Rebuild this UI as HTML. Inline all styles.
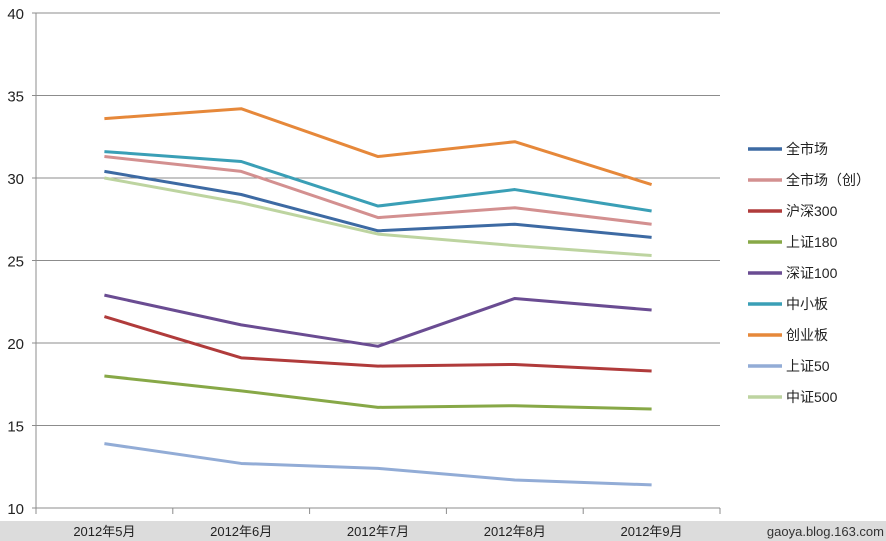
<!DOCTYPE html>
<html><head><meta charset="utf-8"><style>
html,body{margin:0;padding:0;background:#fff;width:886px;height:541px;overflow:hidden;font-family:"Liberation Sans","Noto Sans CJK SC",sans-serif;}
</style></head><body>
<svg id="chart" width="886" height="541" xmlns="http://www.w3.org/2000/svg" font-family="Liberation Sans, Noto Sans CJK SC, sans-serif">
<rect x="0" y="521" width="886" height="20" fill="#dcdcdc"/>
<g id="grid"></g><g id="axes"></g><g id="lines"></g><g id="legend"></g>
<text x="884" y="536" text-anchor="end" font-size="13" fill="#333">gaoya.blog.163.com</text>
</svg>
<script>
const categories = ["2012年5月","2012年6月","2012年7月","2012年8月","2012年9月"];
const yTicks = [10,15,20,25,30,35,40];
const seriesNames = ["全市场","全市场（创）","沪深300","上证180","深证100","中小板","创业板","上证50","中证500"];
const seriesColors = ["#3d6aa3","#d39090","#b03b3b","#87a847","#6a4c92","#3a9fb6","#e6883a","#92acd6","#bdd4a0"];
const sAll = [30.4,29.0,26.8,27.2,26.4];
const sAllC = [31.3,30.4,27.6,28.2,27.2];
const sHS300 = [21.6,19.1,18.6,18.7,18.3];
const sSZ180 = [18.0,17.1,16.1,16.2,16.0];
const sSZ100 = [22.9,21.1,19.8,22.7,22.0];
const sZXB = [31.6,31.0,28.3,29.3,28.0];
const sCYB = [33.6,34.2,31.3,32.2,29.6];
const sSZ50 = [13.9,12.7,12.4,11.7,11.4];
const sZZ500 = [30.0,28.5,26.6,25.9,25.3];
const seriesValues = [sAll,sAllC,sHS300,sSZ180,sSZ100,sZXB,sCYB,sSZ50,sZZ500];

const NS="http://www.w3.org/2000/svg";
const X0=36,X1=720,Y0=508,Y1=13,YMIN=10,YMAX=40;
const bw=(X1-X0)/categories.length;
const xs=i=>X0+bw*(i+0.5);
const ys=v=>Y0-(v-YMIN)/(YMAX-YMIN)*(Y0-Y1);
function mk(tag,attrs,parent){const e=document.createElementNS(NS,tag);for(const k in attrs)e.setAttribute(k,attrs[k]);parent.appendChild(e);return e;}
const grid=document.getElementById('grid'),axes=document.getElementById('axes'),lines=document.getElementById('lines'),legend=document.getElementById('legend');
yTicks.forEach(t=>{
  const y=ys(t);
  const l=mk('line',{x1:32,x2:X1,y1:y,y2:y,stroke:'#8c8c8c','stroke-width':1},grid);
  
  
  const tx=mk('text',{x:24,y:y+6,'text-anchor':'end','font-size':15,fill:'#222'},axes);
  tx.textContent=t;
  
  
});
const ya=mk('line',{x1:X0,x2:X0,y1:Y1,y2:Y0,stroke:'#8c8c8c','stroke-width':1},axes);


for(let i=0;i<=categories.length;i++){
  const x=X0+bw*i;
  const tk=mk('line',{x1:x,x2:x,y1:Y0,y2:Y0+6,stroke:'#8c8c8c'},axes);
  
  
}
categories.forEach((c,i)=>{
  const tx=mk('text',{x:xs(i),y:536,'text-anchor':'middle','font-size':13,fill:'#222'},axes);
  tx.textContent=c;
  
  
});
seriesValues.forEach((vals,s)=>{
  const pts=vals.map((v,i)=>xs(i)+','+ys(v)).join(' ');
  const pl=mk('polyline',{points:pts,fill:'none',stroke:seriesColors[s],'stroke-width':3,'stroke-linejoin':'round'},lines);
  
  
  const y=149+s*31;
  const g=mk('g',{},legend);
  
  
  mk('line',{x1:748,x2:782,y1:y,y2:y,stroke:seriesColors[s],'stroke-width':3.5},g);
  const t=mk('text',{x:786,y:y+5,'font-size':14,fill:'#222'},g);
  t.textContent=seriesNames[s];
});
</script>
</body></html>
